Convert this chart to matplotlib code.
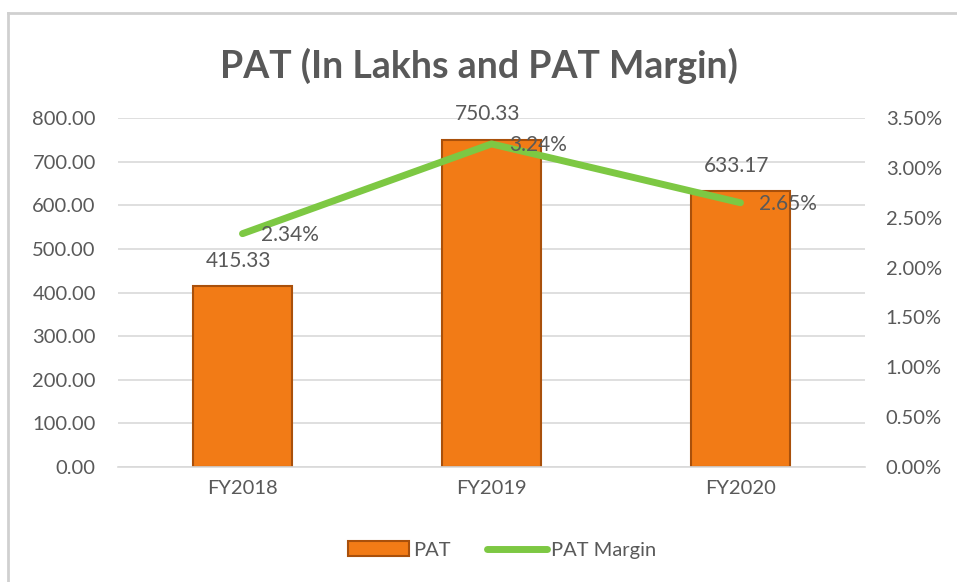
import matplotlib.pyplot as plt
from matplotlib.lines import Line2D
from matplotlib.ticker import FuncFormatter

years = ["FY2018", "FY2019", "FY2020"]
pat = [415.33, 750.33, 633.17]
margin = [2.34, 3.24, 2.65]

grey = "#595959"
plt.rcParams['font.family'] = ['Lato', 'DejaVu Sans']

fig = plt.figure(figsize=(9.57, 5.82), dpi=100)
ax = fig.add_axes([118 / 957, 1 - 467 / 582, (865 - 118) / 957, (467 - 118) / 582])
ax2 = ax.twinx()

x = range(len(years))
bars = ax.bar(x, pat, width=0.4, color="#F27B16", edgecolor="#A9500B", linewidth=1.5, zorder=2)
ax.set_xlim(-0.5, 2.5)
ax.set_ylim(0, 800)
ax.set_yticks(range(0, 801, 100))
ax.yaxis.set_major_formatter(FuncFormatter(lambda v, p: f"{v:.2f}"))
ax.grid(axis='y', color="#d9d9d9", linewidth=1.2, zorder=0)
ax.set_xticks(list(x))
ax.set_xticklabels(years)
for s in ax.spines.values():
    s.set_visible(False)
for s in ax2.spines.values():
    s.set_visible(False)
ax.spines['bottom'].set_visible(True)
ax.spines['bottom'].set_color("#d9d9d9")
ax.spines['bottom'].set_linewidth(1.2)
ax.tick_params(axis='both', length=0, colors=grey, labelsize=14.5, pad=9)
ax.tick_params(axis='y', pad=16)

for i, v in enumerate(pat):
    ax.annotate(f"{v:.2f}", (i, v), xytext=(-3, 11), textcoords="offset points",
                ha='center', va='bottom', fontsize=15, color=grey)

line, = ax2.plot(list(x), margin, color="#7DC843", linewidth=5, solid_capstyle='round', zorder=3)
ax2.set_ylim(0, 3.5)
ax2.set_yticks([0, 0.5, 1, 1.5, 2, 2.5, 3, 3.5])
ax2.yaxis.set_major_formatter(FuncFormatter(lambda v, p: f"{v:.2f}%"))
ax2.tick_params(axis='y', length=0, colors=grey, labelsize=14.5, pad=15)
for i, v in enumerate(margin):
    ax2.annotate(f"{v:.2f}%", (i, v), xytext=(13, -1), textcoords="offset points",
                 ha='left', va='center', fontsize=15, color=grey)

fig.suptitle("PAT (In Lakhs and PAT Margin)", y=1 - 66 / 582, va='center',
             fontsize=27, fontweight='bold', color=grey)

fig.legend([bars, line], ["PAT", "PAT Margin"], loc='center', bbox_to_anchor=(0.525, 1 - 550 / 582),
           ncol=2, frameon=False, fontsize=14.5, labelcolor=grey, handlelength=3,
           handletextpad=0.2, columnspacing=1.8)

# chart frame
fig.add_artist(Line2D([8 / 957, 8 / 957], [0, 1 - 13 / 582], transform=fig.transFigure,
                      color="#d0d0d0", linewidth=2))
fig.add_artist(Line2D([8 / 957, 1], [1 - 13 / 582, 1 - 13 / 582], transform=fig.transFigure,
                      color="#d0d0d0", linewidth=2))

fig.savefig("out.png", dpi=100)
